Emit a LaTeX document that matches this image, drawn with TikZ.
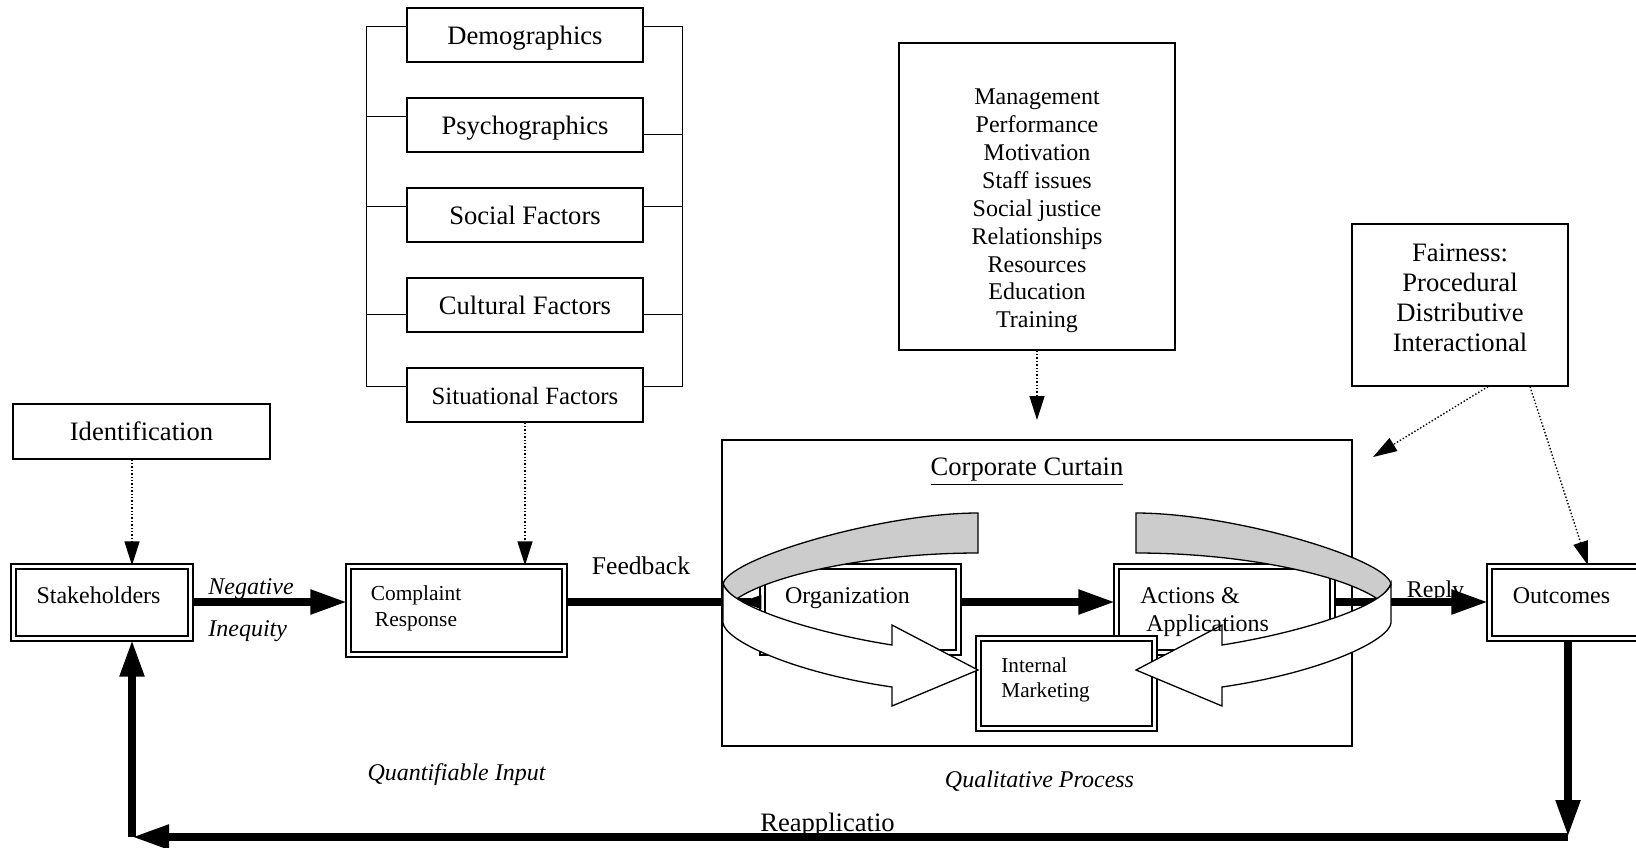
\documentclass[tikz,border=0pt]{standalone}
\usepackage{fontspec}
\setmainfont{Liberation Serif}
\usetikzlibrary{arrows.meta,positioning}

\begin{document}
\begin{tikzpicture}[x=0.5pt, y=-0.5pt,
    box/.style={draw, line width=0.6pt, inner sep=0pt},
    factor/.style={box, minimum width=118pt, minimum height=27pt, text height=9.1pt, text depth=0pt, font=\fontsize{13.3}{15}\selectfont},
    dbox/.style={draw, double, line width=1.15pt, double distance=1.1pt, fill=white, inner sep=0pt},
    lbl/.style={inner sep=0pt},
    bigline/.style={line width=4pt},
    bigarrow/.style={line width=4pt, -{Triangle[length=18.5pt, width=11.5pt]}},
    dotarrow/.style={line width=0.7pt, dash pattern=on 0.7pt off 1pt, -{Triangle[length=12pt, width=7.5pt]}},
    ringback/.style={draw, line width=0.65pt, fill=black!20},
    ringfront/.style={draw, line width=0.65pt, fill=white}
]
\useasboundingbox (0,0) rectangle (1636,847);
\clip (0,0) rectangle (1636,847);

% factors
\node[factor] (demo) at (525,35) {Demographics};
\node[factor] (psy) at (525,125) {Psychographics};
\node[factor] (soc) at (525,215) {Social Factors};
\node[factor] (cult) at (525,305) {Cultural Factors};
\node[factor, font=\fontsize{12.4}{14}\selectfont] (sit) at (525,395) {Situational Factors};

\draw[line width=0.5pt] ([yshift=4.5pt]demo.west) -| ([yshift=4.5pt, xshift=-20pt]sit.west) -- ([yshift=4.5pt]sit.west);
\foreach \f/\s in {psy/4.5, soc/4.5, cult/-4.5}
    \draw[line width=0.5pt] ([yshift=\s pt]\f.west) -- ++(-20pt,0pt);
\draw[line width=0.5pt] ([yshift=4.5pt]demo.east) -| ([yshift=4.5pt, xshift=19.5pt]sit.east) -- ([yshift=4.5pt]sit.east);
\foreach \f/\s in {psy/-4.5, soc/4.5, cult/-4.5}
    \draw[line width=0.5pt] ([yshift=\s pt]\f.east) -- ++(19.5pt,0pt);

% top boxes
\node[box, minimum width=128.5pt, minimum height=27.5pt, font=\fontsize{13.3}{15}\selectfont] (ident) at (141.5,431.5) {Identification};
\node[box, minimum width=138pt, minimum height=153.5pt] (mgmt) at (1037,196.5) {};
\node[lbl, align=center, font=\fontsize{12}{13.95}\selectfont] (mgmttxt) at (1037,211)
    {Management\\Performance\\Motivation\\Staff issues\\Social justice\\Relationships\\Resources\\Education\\Training};
\node[box, minimum width=108pt, minimum height=81pt] (fair) at (1460,305) {};
\node[lbl, align=center, font=\fontsize{13.3}{15}\selectfont] (fairtxt) at (1460,297.5)
    {Fairness:\\Procedural\\Distributive\\Interactional};

% main row
\node[box, minimum width=315pt, minimum height=153pt] (curtain) at (1037,593) {};
\node[lbl, font=\fontsize{13.3}{15}\selectfont] (curtaintxt) at (1027,472) {\underline{Corporate Curtain}};

\node[dbox, minimum width=88.5pt, minimum height=36pt] (stake) at (102,602.5) {};
\node[dbox, minimum width=108pt, minimum height=44pt] (comp) at (456.5,610.5) {};
\node[dbox, minimum width=98pt, minimum height=43pt] (org) at (860.5,609.5) {};
\node[dbox, minimum width=108pt, minimum height=43pt] (act) at (1224.5,609.5) {};
\node[dbox, minimum width=88pt, minimum height=45pt] (im) at (1066.5,683.5) {};
\node[dbox, minimum width=78.5pt, minimum height=36pt] (outc) at (1568,602.5) {};

\node[lbl, font=\fontsize{12}{14}\selectfont] (staketxt) at (98.5,595) {Stakeholders};
\node[lbl, align=center, font=\fontsize{10.7}{13}\selectfont] (comptxt) at (416,608) {Complaint\\Response};
\node[lbl, font=\fontsize{12}{14}\selectfont] (outtxt) at (1561.5,596) {Outcomes};

\coordinate (axis) at (0,602);
\node[lbl, anchor=west, font=\fontsize{12}{14}\itshape] (neg) at (208,589) {Negative};
\node[lbl, anchor=west, font=\fontsize{12}{14}\itshape] (ineq) at (208,631) {Inequity};
\node[lbl, font=\fontsize{12.8}{15}\selectfont] (feedback) at (641,566) {Feedback};
\node[lbl, font=\fontsize{12}{14}\selectfont] (reply) at (1435.5,592) {Reply};

\draw[bigarrow] (stake.east |- axis) -- (comp.west |- axis);
\draw[bigline, -{Triangle[reversed, length=11.5pt, width=6pt]}] (comp.east |- axis) -- (org.west |- axis);
\draw[bigarrow] (org.east |- axis) -- (act.west |- axis);
\draw[bigarrow] (act.east |- axis) -- (outc.west |- axis);

% curtain rings
\foreach \sx/\dx in {1/0, -1/2114}{
    \begin{scope}[shift={(\dx,0)}, xscale=\sx]
        \draw[ringback] (978,513) .. controls (880,513) and (723,560) .. (723,585)
            -- (735,600) .. controls (770,575) and (870,553) .. (978,553) -- cycle;
        \draw[ringfront] (723,583) .. controls (727,605) and (810,632) .. (892,645)
            -- (892,625) -- (978,670) -- (892,706) -- (892,687)
            .. controls (790,672) and (725,640) .. (723,623) -- cycle;
    \end{scope}
}

\node[lbl, font=\fontsize{12}{14}\selectfont] (orgtxt) at (847.5,598) {Organization};
\node[lbl, anchor=west, align=left, font=\fontsize{12}{14}\selectfont] (acttxt) at (1140,612)
    {Actions \&\\\hspace*{3pt}Applications};
\node[lbl, anchor=west, align=left, font=\fontsize{10.6}{12.5}\selectfont] (imtxt) at (1001,679.5)
    {Internal\\Marketing};

% dotted influences
\coordinate (reapl) at (132,837);
\coordinate (outdown) at (1568,837);
\coordinate (mgmtend) at (1037,420);
\coordinate (fairend) at (1373,457);
\draw[dotarrow] (ident.south -| reapl) -- (stake.north -| reapl);
\draw[dotarrow] (sit.south) -- (sit.south |- comp.north);
\draw[dotarrow] (mgmt.south) -- (mgmtend);
\draw[dotarrow] ([xshift=14pt]fair.south) -- (fairend);
\draw[dotarrow] ([xshift=35pt]fair.south) -- ([xshift=10pt]outc.north);

% return loop
\draw[bigarrow] (outc.south) -- (outdown);
\draw[bigarrow] (outdown) -- (reapl);
\draw[bigarrow] (reapl) -- (stake.south -| reapl);

\node[lbl, font=\fontsize{12}{14}\itshape] (quant) at (456.5,775) {Quantifiable Input};
\node[lbl, font=\fontsize{12}{14}\itshape] (qual) at (1039.5,781) {Qualitative Process};
\node[lbl, font=\fontsize{13.3}{15}\selectfont] (reaptxt) at (827.5,825) {Reapplicatio};
\end{tikzpicture}
\end{document}
